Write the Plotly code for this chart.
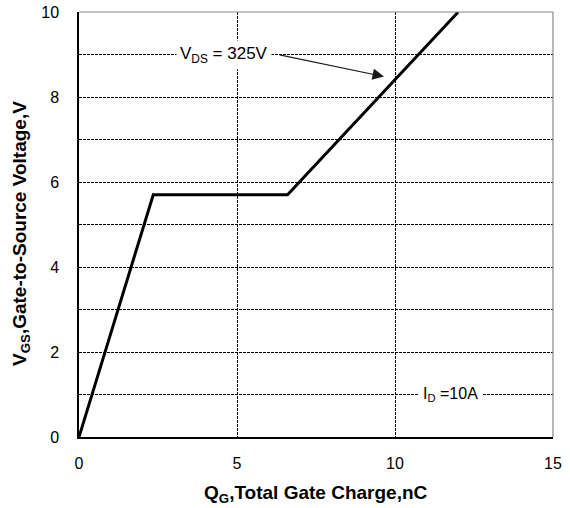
import plotly.graph_objects as go

# Data
qg_nc = [0.0, 2.35, 6.6, 12.0]
vgs_v = [0.0, 5.7, 5.7, 10.0]

x_ticks = [0, 5, 10, 15]
y_ticks = [0, 2, 4, 6, 8, 10]

vds_label = "V<sub>DS</sub> = 325V"
vds_label_pos = (4.6, 9.0)
vds_arrow_tail = (6.3, 9.0)
vds_arrow_head = (9.65, 8.48)
id_label = "I<sub>D</sub> =10A"
id_label_pos = (11.75, 1.0)

x_title = "<b>Q<sub>G</sub>,Total Gate Charge,nC</b>"
y_title = "<b>V<sub>GS</sub>,Gate-to-Source Voltage,V</b>"

FONT = "Liberation Sans, Arial, sans-serif"

W, H = 570, 508
ML, MR, MT, MB = 79, 17, 12, 71
PW, PH = W - ML - MR, H - MT - MB

fig = go.Figure()
fig.add_trace(go.Scatter(
    x=qg_nc, y=vgs_v, mode="lines",
    line=dict(color="black", width=3),
    showlegend=False, hoverinfo="skip",
))

# V_DS label (white box hides grid line)
fig.add_annotation(
    x=vds_label_pos[0], y=vds_label_pos[1], xref="x", yref="y",
    text=vds_label, showarrow=False,
    font=dict(family=FONT, size=17, color="black"),
    bgcolor="white", borderpad=3,
)
# arrow
fig.add_annotation(
    x=vds_arrow_head[0], y=vds_arrow_head[1], xref="x", yref="y",
    ax=vds_arrow_tail[0], ay=vds_arrow_tail[1], axref="x", ayref="y",
    text="", showarrow=True, arrowhead=2, arrowsize=1.9, arrowwidth=1.2,
    arrowcolor="#1a1a1a",
)
fig.add_annotation(
    x=id_label_pos[0], y=id_label_pos[1], xref="x", yref="y",
    text=id_label, showarrow=False,
    font=dict(family=FONT, size=16, color="black"),
    bgcolor="white", borderpad=4,
)

# axis titles
fig.add_annotation(
    x=0.5, y=-(494 - (H - MB)) / PH, xref="paper", yref="paper", text=x_title,
    showarrow=False, xanchor="center", yanchor="middle",
    font=dict(family=FONT, size=19, color="black"),
)
fig.add_annotation(
    x=-(ML - 21) / PW, y=((H - MB) - 234) / PH, xref="paper", yref="paper",
    text=y_title, showarrow=False, textangle=-90,
    xanchor="center", yanchor="middle",
    font=dict(family=FONT, size=19, color="black"),
)

fig.update_layout(
    width=W, height=H,
    margin=dict(l=ML, r=MR, t=MT, b=MB, autoexpand=False),
    paper_bgcolor="white", plot_bgcolor="white",
    font=dict(family=FONT, size=16, color="black"),
    shapes=[
        dict(type="line", xref="paper", yref="paper", x0=0, x1=1, y0=1, y1=1,
             line=dict(color="#888888", width=1.2), layer="above"),
        dict(type="line", xref="paper", yref="paper", x0=1, x1=1, y0=0, y1=1,
             line=dict(color="#888888", width=1.2), layer="above"),
    ],
)
fig.update_xaxes(
    range=[0, 15], tickvals=x_ticks, ticktext=[str(v) for v in x_ticks],
    showline=True, linecolor="black", linewidth=1.5,
    showgrid=True, gridcolor="black", gridwidth=1, griddash="3px,1px",
    zeroline=False, ticks="outside", ticklen=11, tickcolor="rgba(0,0,0,0)",
    tickfont=dict(family=FONT, size=16), automargin=False,
    ticklabeloverflow="allow",
)
fig.update_yaxes(
    range=[0, 10], tickvals=y_ticks, ticktext=[str(v) for v in y_ticks],
    showline=True, linecolor="black", linewidth=1.5,
    showgrid=True, gridcolor="black", gridwidth=1, griddash="3px,1px",
    minor=dict(dtick=1, tick0=0, showgrid=True, gridcolor="black",
               gridwidth=1, griddash="3px,1px", ticks=""),
    zeroline=False, ticks="outside", ticklen=15, tickcolor="rgba(0,0,0,0)",
    tickfont=dict(family=FONT, size=16), automargin=False,
    ticklabeloverflow="allow",
)

# remove the browser's default 8px body margin so the figure fills the window
fig.write_html("out.html", config={"displayModeBar": False},
               post_script="document.body.style.margin='0';")
